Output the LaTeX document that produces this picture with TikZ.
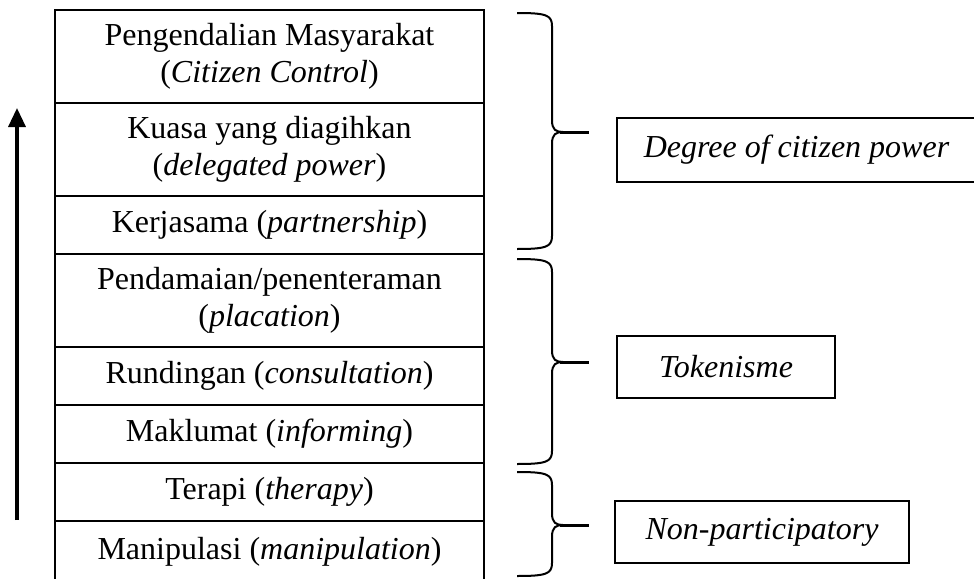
\documentclass[tikz,border=0pt]{standalone}
\usepackage{fontspec}
\setmainfont{Liberation Serif}
\usepackage{tikz}
\usetikzlibrary{positioning,arrows.meta}

\tikzset{
	rung/.style={draw, line width=0.8pt, outer sep=0pt, minimum width=214.5pt, inner sep=0pt,
		align=center, font=\fontsize{16pt}{18.5pt}\selectfont},
	tallrung/.style={rung, minimum height=46.5pt},
	shortrung/.style={rung, minimum height=29pt},
	level/.style={draw, line width=0.8pt, inner sep=0pt,
		font=\fontsize{16pt}{18.5pt}\selectfont\itshape},
}

% top, tip, bottom of a brace
\newcommand{\wordbrace}[3]{
	\draw [line width=1pt] (517,#1) .. controls (546,#1) and (552,{#1+2}) .. (552,{#1+13})
		-- (552,{#2-12}) .. controls (552,{#2-2}) and (556,#2) .. (563,#2)
		.. controls (556,#2) and (552,{#2+2}) .. (552,{#2+12})
		-- (552,{#3-13}) .. controls (552,{#3-2}) and (546,#3) .. (517,#3);
	\draw [line width=1.5pt] (560,#2) -- (589,#2);
}

\begin{document}
\begin{tikzpicture}[x=0.5pt, y=-0.5pt]
		\useasboundingbox (0,0) rectangle (974,578);

		\coordinate (low)  at (17, 520);
		\coordinate (high) at (17, 108);

		\node [tallrung, anchor=north] (r1) at (269.5,10)
			{Pengendalian Masyarakat\\(\textit{Citizen Control})};
		\node [tallrung, below=0pt of r1] (r2) {Kuasa yang diagihkan\\(\textit{delegated power})};
		\node [shortrung, below=0pt of r2] (r3) {Kerjasama (\textit{partnership})};
		\node [tallrung, below=0pt of r3] (r4) {Pendamaian/penenteraman\\(\textit{placation})};
		\node [shortrung, below=0pt of r4] (r5) {Rundingan (\textit{consultation})};
		\node [shortrung, below=0pt of r5] (r6) {Maklumat (\textit{informing})};
		\node [shortrung, below=0pt of r6] (r7) {Terapi (\textit{therapy})};
		\node [shortrung, minimum height=31pt, below=0pt of r7] (r8) {Manipulasi (\textit{manipulation})};

		\draw (low) [-{Triangle[length=9.5pt,width=8.5pt]}, line width=1.7pt]-- (high);

		\wordbrace{13}{132}{249}
		\wordbrace{259}{362}{464}
		\wordbrace{472}{525}{576}

		\node [level, minimum width=179.5pt, minimum height=32pt] (power) at (796.5,150)
			{Degree of citizen power};
		\node [level, minimum width=109pt, minimum height=31pt] (token) at (726,367)
			{Tokenisme};
		\node [level, minimum width=147pt, minimum height=31pt] (nonpart) at (762,532)
			{Non-participatory};
	\end{tikzpicture}
\end{document}
